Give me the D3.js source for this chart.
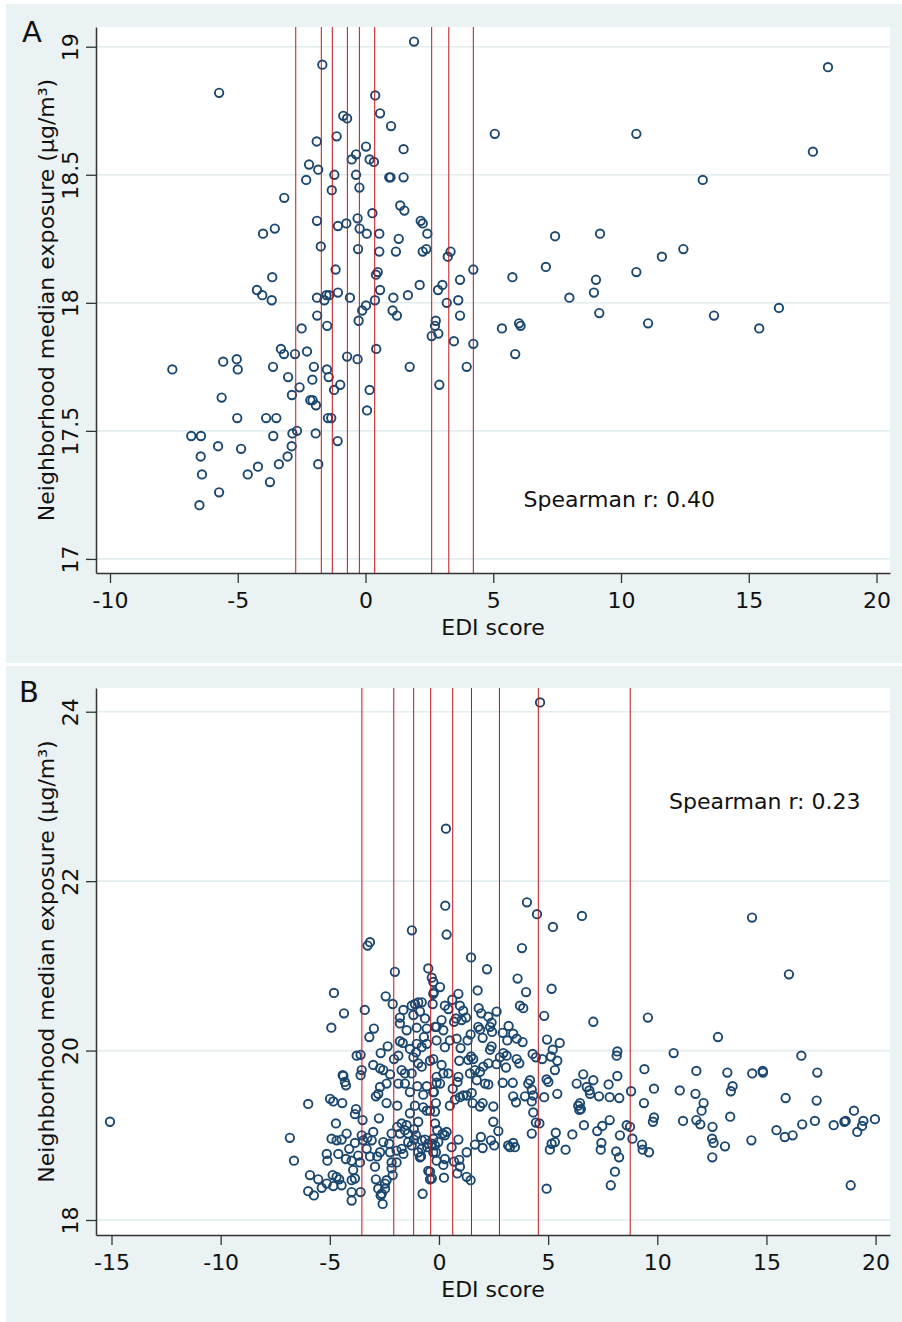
<!DOCTYPE html>
<html><head><meta charset="utf-8">
<script src="https://cdnjs.cloudflare.com/ajax/libs/d3/7.8.5/d3.min.js"></script>
<style>
html,body{margin:0;padding:0;background:#fff;}
svg text{font-family:"DejaVu Sans",sans-serif;fill:#111;}
</style></head>
<body>
<svg id="chart" width="902" height="1322"></svg>
<script>
// ---------- Data ----------
const panelLabels = ["A", "B"];
const xTitle = "EDI score";
const yTitle = "Neighborhood median exposure (μg/m³)";
const spearmanA = "Spearman r: 0.40";
const spearmanB = "Spearman r: 0.23";

const xTicksA = [-10, -5, 0, 5, 10, 15, 20];
const yTicksA = [17, 17.5, 18, 18.5, 19];
const xTicksB = [-15, -10, -5, 0, 5, 10, 15, 20];
const yTicksB = [18, 20, 22, 24];

// decile cut points (vertical reference lines)
const cutsA = [-2.73, -1.73, -1.30, -0.71, -0.24, 0.36, 2.59, 3.26, 4.22];
const cutsB = [-3.53, -2.07, -1.16, -0.38, 0.63, 1.49, 2.77, 4.55, 8.76];

// [EDI score, exposure]
const pointsA = [
[-5.73,18.82],[-1.69,18.93],[1.90,19.02],[0.38,18.81],[-0.87,18.73],[-0.72,18.72],[0.57,18.74],[1.00,18.69],[-1.13,18.65],[-1.91,18.63],
[0.02,18.61],[1.49,18.60],[-0.37,18.58],[-0.54,18.56],[0.16,18.56],[0.33,18.55],[-2.21,18.54],[-1.85,18.52],[-1.22,18.50],[-0.37,18.50],
[0.93,18.49],[0.98,18.49],[1.49,18.49],[-2.32,18.48],[-1.32,18.44],[-0.24,18.45],[-3.18,18.41],[1.36,18.38],[1.52,18.36],[0.27,18.35],
[-1.90,18.32],[2.16,18.32],[2.24,18.31],[-0.31,18.33],[-1.08,18.30],[-0.75,18.31],[-0.23,18.29],[0.05,18.27],[0.54,18.27],[2.42,18.27],
[-3.55,18.29],[-4.01,18.27],[1.30,18.25],[-1.75,18.22],[-0.29,18.21],[0.54,18.20],[1.19,18.20],[2.24,18.20],[2.38,18.21],[3.22,18.18],
[3.33,18.20],[-1.17,18.13],[0.48,18.12],[0.41,18.11],[-3.65,18.10],[2.12,18.07],[3.01,18.07],[0.57,18.05],[2.84,18.05],[-4.25,18.05],
[-4.04,18.03],[-3.67,18.01],[-1.90,18.02],[-1.61,18.01],[-1.53,18.03],[-1.42,18.03],[-1.08,18.04],[-0.61,18.02],[0.37,18.01],[1.09,18.02],
[1.66,18.03],[3.18,18.00],[0.02,17.99],[-0.13,17.97],[1.06,17.97],[1.23,17.95],[-1.89,17.95],[-0.27,17.93],[-1.50,17.91],[-2.50,17.90],
[2.75,17.93],[2.72,17.91],[2.59,17.87],[2.85,17.88],[0.42,17.82],[-3.31,17.82],[-3.19,17.80],[-2.76,17.80],[-2.29,17.81],[-0.72,17.79],
[-0.31,17.78],[1.73,17.75],[-5.04,17.78],[-5.57,17.77],[-5.00,17.74],[-7.56,17.74],[-3.62,17.75],[-2.02,17.75],[-1.51,17.74],[-1.44,17.71],
[-3.03,17.71],[-2.08,17.70],[-2.58,17.67],[-1.23,17.66],[-0.99,17.68],[0.16,17.66],[2.89,17.68],[-2.88,17.64],[-5.63,17.63],[-2.16,17.62],
[-2.07,17.62],[-1.94,17.60],[0.06,17.58],[-5.02,17.55],[-3.89,17.55],[-3.49,17.55],[-1.47,17.55],[-1.34,17.55],[-2.86,17.49],[-2.68,17.50],
[-1.95,17.49],[-6.82,17.48],[-6.44,17.48],[-3.61,17.48],[-1.09,17.46],[-5.77,17.44],[-4.87,17.43],[-2.89,17.44],[-6.45,17.40],[-3.05,17.40],
[-1.85,17.37],[-4.21,17.36],[-3.39,17.37],[-6.40,17.33],[-4.61,17.33],[-3.74,17.30],[-5.73,17.26],[-6.50,17.21],
[18.10,18.92],[10.60,18.66],[5.06,18.66],[17.51,18.59],[13.20,18.48],[7.42,18.26],[9.18,18.27],[12.44,18.21],[11.60,18.18],[7.06,18.14],
[4.22,18.13],[5.75,18.10],[10.60,18.12],[9.02,18.09],[3.70,18.09],[7.98,18.02],[8.94,18.04],[3.63,18.01],[3.70,17.95],[9.15,17.96],
[16.18,17.98],[13.64,17.95],[11.06,17.92],[15.41,17.90],[5.34,17.90],[6.01,17.92],[6.07,17.91],[3.46,17.85],[4.22,17.84],[5.86,17.80],
[3.96,17.75]
];

const pointsB = [
[-15.07,19.16],[4.63,24.11],[0.32,22.62],[4.03,21.75],[4.49,21.61],[5.22,21.46],[6.55,21.59],[14.34,21.57],[16.03,20.90],
[-3.27,21.24],[-3.16,21.28],[-1.24,21.42],[0.29,21.71],[0.35,21.37],
[1.47,21.10],[3.80,21.21],[2.20,20.96],[3.60,20.85],[3.99,20.69],[5.16,20.73],[1.77,20.71],[3.71,20.53],[3.86,20.50],[4.82,20.41],
[2.64,20.46],[1.82,20.50],[1.94,20.44],[0.89,20.67],[0.05,20.75],[-0.26,20.67],[0.61,20.60],[0.96,20.53],[0.27,20.53],[0.43,20.49],
[1.11,20.47],[1.24,20.39],[1.04,20.36],[0.78,20.38],[0.69,20.34],[0.12,20.36],[2.26,20.40],[2.41,20.33],[1.80,20.28],[1.88,20.25],
[2.34,20.28],[3.19,20.29],[2.92,20.21],[3.40,20.20],[3.56,20.14],[3.83,20.10],[3.13,20.12],[2.43,20.22],[2.00,20.15],[1.45,20.19],
[1.31,20.12],[0.20,20.24],[-0.18,20.28],[-0.11,20.12],[0.50,20.12],[0.81,20.14],[0.27,20.04],[0.99,20.03],[4.95,20.13],[5.53,20.09],
[5.21,20.01],[4.29,19.96],[4.44,19.92],[4.73,19.90],[5.13,19.93],[5.42,19.88],[5.31,19.77],[2.41,20.05],[2.34,20.01],[2.95,19.97],
[2.79,19.92],[3.10,19.94],[3.56,19.90],[3.68,19.85],[1.47,19.93],[1.57,19.90],[1.34,19.89],[0.93,19.88],[1.65,19.77],[2.03,19.81],
[2.26,19.85],[2.64,19.84],[3.07,19.80],[0.12,19.83],[-0.26,19.90],[0.20,19.73],[4.17,19.65],[4.93,19.66],
[-0.11,19.69],[0.43,19.73],[0.89,19.69],[1.42,19.73],[1.88,19.75],
[0.05,19.61],[-0.26,19.51],[-0.14,19.38],[-0.18,19.28],[-0.41,19.29],[0.63,19.55],[0.85,19.63],[0.50,19.35],[0.73,19.42],[0.96,19.45],
[1.11,19.47],[1.27,19.47],[1.50,19.50],[1.54,19.38],[1.88,19.34],[2.00,19.38],[2.11,19.61],[2.26,19.60],[1.73,19.65],[2.49,19.34],
[2.92,19.62],[3.38,19.62],[3.40,19.46],[3.53,19.39],[3.94,19.46],[4.09,19.61],[4.25,19.54],[4.32,19.47],[4.25,19.40],[4.82,19.45],
[5.01,19.63],[5.42,19.49],[6.31,19.61],[6.38,19.35],[6.43,19.30],[4.32,19.27],[4.44,19.15],[4.60,19.14],[4.25,19.02],[5.35,19.03],
[6.11,19.01],[5.16,18.90],[5.31,18.92],[5.08,18.83],[5.80,18.83],[4.93,18.37],[2.49,19.16],[2.72,19.05],[2.38,18.94],[2.53,18.88],
[1.92,18.98],[2.00,18.85],[1.65,18.89],[1.27,18.80],[0.89,18.95],[0.58,18.86],[0.35,19.04],[0.27,19.00],[-0.08,19.06],[-0.18,19.14],
[-0.26,18.96],[-0.33,18.90],[-0.03,18.92],[0.17,19.02],[-0.26,18.80],[-0.11,18.70],[0.27,18.72],[0.20,18.65],[0.69,18.69],[0.93,18.71],
[0.96,18.63],[0.84,18.55],[0.23,18.50],[-0.33,18.49],[-0.41,18.57],[1.27,18.51],[1.45,18.47],[3.25,18.86],[3.40,18.91],[3.48,18.86],
[3.17,18.88],
[-5.99,19.37],[-6.83,18.97],[-6.64,18.70],[-4.99,19.43],[-4.84,19.40],[-4.43,19.38],[-3.80,19.31],[-3.85,19.25],[-3.50,19.18],[-2.75,19.20],
[-2.89,19.46],[-2.40,19.38],[-1.91,19.35],[-2.70,19.57],[-2.40,19.61],[-4.31,19.63],[-4.26,19.59],[-1.86,19.61],[-1.56,19.61],[-1.33,19.51],
[-0.99,19.58],[-0.72,19.48],[-0.56,19.58],[-0.23,19.51],[-0.11,19.62],[-1.10,19.35],[-1.33,19.26],[-0.72,19.33],[-0.56,19.29],[-0.95,19.16],
[-4.72,19.14],[-4.23,19.02],[-4.92,18.96],[-4.69,18.94],[-4.46,18.95],[-3.85,18.91],[-4.11,18.84],[-4.61,18.78],[-5.14,18.78],[-5.11,18.70],
[-4.26,18.72],[-4.00,18.70],[-3.70,18.76],[-3.62,18.68],[-3.93,18.59],[-3.54,19.00],[-3.47,18.94],[-3.28,18.97],[-3.01,19.04],[-3.08,18.94],
[-3.31,18.84],[-3.16,18.75],[-2.83,18.75],[-2.55,18.92],[-2.70,18.80],[-2.28,18.90],[-2.17,19.02],[-1.91,19.10],[-1.71,19.14],[-1.79,19.02],
[-1.56,19.06],[-1.94,18.82],[-1.71,18.84],[-1.63,18.78],[-2.24,18.80],[-2.17,18.68],[-2.17,18.61],[-2.12,18.53],[-1.94,18.68],[-1.41,18.92],
[-1.25,18.88],[-1.05,19.00],[-0.95,18.80],[-0.79,18.84],[-0.82,18.75],[-0.64,18.95],[-0.49,18.90],[-0.49,18.58],[-0.41,18.48],[-0.75,18.31],
[-5.91,18.53],[-5.53,18.48],[-5.99,18.34],[-5.73,18.29],[-5.37,18.38],[-5.14,18.43],[-4.84,18.40],[-4.87,18.53],[-4.69,18.51],[-4.57,18.48],
[-4.46,18.41],[-4.00,18.47],[-3.85,18.49],[-4.00,18.33],[-4.00,18.23],[-3.59,18.33],[-2.89,18.48],[-2.78,18.37],[-2.62,18.31],[-2.47,18.37],
[-2.58,18.19],[-2.47,18.43],
[-1.48,19.12],[-1.41,19.02],[-1.15,19.07],[-1.15,18.95],[-0.79,18.94],[-0.87,18.74],[-0.54,18.86],[-0.18,18.88],[-0.14,18.80],[-2.78,19.49],
[-2.93,18.63],[-2.40,18.47],[-2.67,18.29],
[-2.02,20.93],[-4.81,20.68],[-4.35,20.44],[-4.93,20.27],[-3.40,20.48],[-2.44,20.64],[-2.12,20.55],[-2.98,20.26],[-3.19,20.16],[-3.77,19.94],
[-3.59,19.95],[-3.54,19.77],[-3.59,19.71],[-4.41,19.71],[-3.01,19.83],[-2.67,19.97],[-2.35,20.05],[-2.06,19.90],[-1.86,19.94],[-2.70,19.79],
[-2.55,19.77],[-2.24,19.72],[-1.71,19.77],[-1.56,19.73],[-1.79,20.39],[-1.63,20.48],[-1.79,20.32],[-1.48,20.24],[-1.25,20.53],[-1.10,20.55],
[-0.95,20.57],[-0.79,20.57],[-1.17,20.42],[-0.87,20.46],[-0.64,20.38],[-1.02,20.27],[-0.56,20.26],[-0.69,20.16],[-1.02,20.08],[-0.79,20.04],
[-0.56,20.08],[-1.33,20.02],[-1.05,19.98],[-1.17,19.92],[-0.41,19.88],[-0.95,19.85],[-0.79,19.81],[-0.49,20.97],[-0.33,20.86],[-0.26,20.81],
[-0.23,20.69],[-0.29,20.55],[-0.11,20.28],
[-1.79,20.11],[-1.66,20.09],[-4.38,19.70],[-1.25,19.73],
[7.07,20.34],[9.57,20.39],[12.78,20.16],[8.17,19.99],[8.14,19.94],[10.75,19.97],[16.60,19.94],[6.61,19.72],[7.07,19.65],[6.77,19.57],
[6.89,19.53],[6.92,19.49],[7.77,19.60],[8.17,19.70],[7.33,19.46],[7.82,19.45],[8.26,19.44],[8.80,19.52],[9.41,19.78],[9.85,19.55],
[9.39,19.38],[11.79,19.76],[13.21,19.74],[14.35,19.73],[14.83,19.76],[14.84,19.74],[17.33,19.74],[11.03,19.53],[11.75,19.49],[12.12,19.38],
[12.03,19.29],[13.45,19.58],[13.37,19.52],[15.88,19.44],[17.30,19.41],[6.46,19.38],[6.50,19.31],[6.64,19.12],[7.25,19.05],[7.48,19.11],
[7.82,19.18],[8.60,19.12],[8.75,19.10],[8.29,19.00],[8.86,18.96],[7.44,18.91],[7.41,18.83],[8.12,18.81],[8.25,18.74],[8.06,18.57],
[7.87,18.41],[9.30,18.89],[9.33,18.83],[9.62,18.80],[9.85,19.21],[9.80,19.16],[11.18,19.17],[11.79,19.18],[11.97,19.13],[12.53,19.10],
[13.34,19.22],[12.51,18.96],[12.58,18.91],[13.10,18.87],[12.52,18.74],[14.31,18.94],[15.46,19.06],[15.84,18.98],[16.20,19.00],[16.64,19.13],
[17.22,19.17],[18.08,19.12],[18.57,19.16],[18.63,19.17],[19.01,19.29],[19.44,19.17],[19.38,19.11],[19.16,19.04],[19.97,19.19],[18.86,18.41]
];

// ---------- Drawing ----------
const BG = "#eaf2f3", NAVY = "#1a476f", RED = "#c0141c", AXIS = "#333";
const FONT = 22;
const svg = d3.select("#chart");

const panels = [
  {label: panelLabels[0], bg: [6, 4, 896, 659], plot: {l: 96, r: 890, t: 27, b: 573},
   xDom: [-10.548, 20.528], yDom: [16.945, 19.077], xTicks: xTicksA, yTicks: yTicksA,
   cuts: cutsA, pts: pointsA, note: spearmanA, noteX: 523.5, noteY: 507, labX: 22, labY: 42},
  {label: panelLabels[1], bg: [6, 666, 896, 656], plot: {l: 96, r: 890, t: 688, b: 1235},
   xDom: [-15.71, 20.66], yDom: [17.823, 24.28], xTicks: xTicksB, yTicks: yTicksB,
   cuts: cutsB, pts: pointsB, note: spearmanB, noteX: 669, noteY: 809, labX: 19, labY: 702}
];

panels.forEach(p => {
  const g = svg.append("g");
  g.append("rect").attr("x", p.bg[0]).attr("y", p.bg[1]).attr("width", p.bg[2]).attr("height", p.bg[3]).attr("fill", BG);
  const P = p.plot;
  g.append("rect").attr("x", P.l).attr("y", P.t).attr("width", P.r - P.l).attr("height", P.b - P.t).attr("fill", "#fff");

  const x = d3.scaleLinear().domain(p.xDom).range([P.l, P.r]);
  const y = d3.scaleLinear().domain(p.yDom).range([P.b, P.t]);

  // gridlines
  g.append("g").selectAll("line").data(p.yTicks).join("line")
    .attr("x1", P.l).attr("x2", P.r).attr("y1", d => y(d)).attr("y2", d => y(d))
    .attr("stroke", "#e3ecee").attr("stroke-width", 1.6);

  // markers
  g.append("g").selectAll("circle").data(p.pts).join("circle")
    .attr("cx", d => x(d[0])).attr("cy", d => y(d[1])).attr("r", 4.2)
    .attr("fill", "none").attr("stroke", NAVY).attr("stroke-width", 1.9);

  // cut lines
  g.append("g").selectAll("line").data(p.cuts).join("line")
    .attr("x1", d => x(d)).attr("x2", d => x(d)).attr("y1", P.t).attr("y2", P.b)
    .attr("stroke", RED).attr("stroke-width", 1);

  // axes
  const ax = g.append("g").attr("transform", `translate(0,${P.b})`)
    .call(d3.axisBottom(x).tickValues(p.xTicks).tickSize(10).tickSizeOuter(0).tickFormat(d3.format("d")));
  ax.selectAll("text").attr("y", 35).attr("dy", 0).style("font-size", FONT + "px").text(d => d < 0 ? "-" + Math.abs(d) : d);
  const ay = g.append("g").attr("transform", `translate(${P.l},0)`)
    .call(d3.axisLeft(y).tickValues(p.yTicks).tickSize(10).tickSizeOuter(0).tickFormat(d => String(d)));
  ay.selectAll("text").attr("x", 0).attr("dy", 0).attr("text-anchor", "middle")
    .attr("transform", "translate(-18,0) rotate(-90)").style("font-size", FONT + "px");
  [ax, ay].forEach(a => {
    a.select(".domain").attr("stroke", AXIS).attr("stroke-width", 1.5);
    a.selectAll(".tick line").attr("stroke", AXIS).attr("stroke-width", 1.3);
    a.selectAll("text").attr("fill", "#111").style("font-family", "DejaVu Sans");
  });

  // titles
  g.append("text").attr("x", (P.l + P.r) / 2).attr("y", P.b + 62).attr("text-anchor", "middle")
    .style("font-size", FONT + "px").text(xTitle);
  g.append("text").attr("transform", `translate(53.5,${(P.t + P.b) / 2}) rotate(-90)`).attr("text-anchor", "middle")
    .style("font-size", FONT + "px").text(yTitle);
  g.append("text").attr("x", p.noteX).attr("y", p.noteY).style("font-size", FONT + "px").text(p.note);
  g.append("text").attr("x", p.labX).attr("y", p.labY).style("font-size", "29px").text(p.label);
});
</script>
</body></html>
